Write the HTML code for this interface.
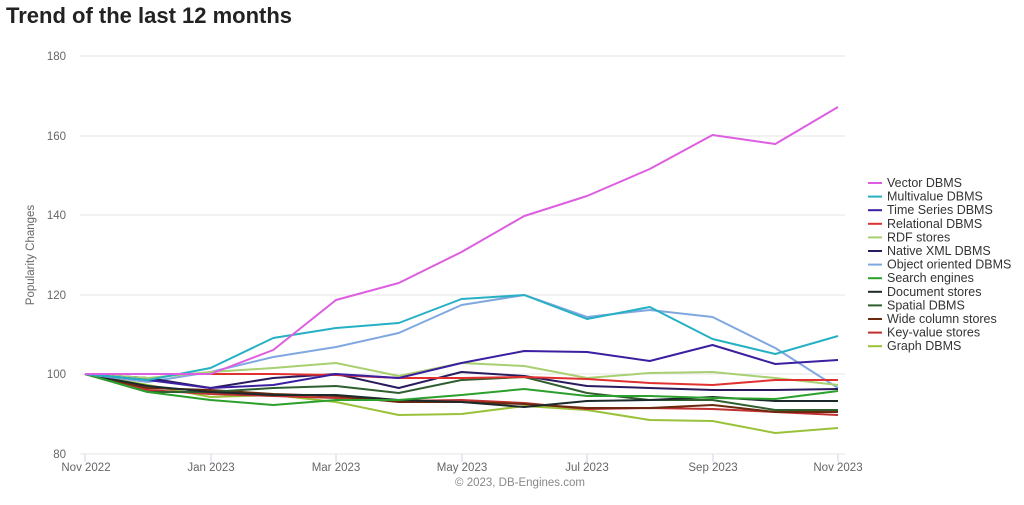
<!DOCTYPE html><html><head><meta charset="utf-8"><style>body{margin:0;background:#fff;width:1024px;height:500px;overflow:hidden}</style></head><body>
<svg width="1024" height="500" xmlns="http://www.w3.org/2000/svg" font-family="Liberation Sans, sans-serif">
<text x="6" y="23" font-size="22" font-weight="bold" fill="#222">Trend of the last 12 months</text>
<g stroke="#e6e6e6" stroke-width="1">
<line x1="80" x2="845" y1="56" y2="56"/><line x1="80" x2="845" y1="136" y2="136"/><line x1="80" x2="845" y1="215" y2="215"/><line x1="80" x2="845" y1="295" y2="295"/><line x1="80" x2="845" y1="374" y2="374"/><line x1="80" x2="845" y1="454" y2="454"/>
</g>
<g stroke="#ccd6eb"><line x1="85" x2="85" y1="454" y2="462"/><line x1="211" x2="211" y1="454" y2="462"/><line x1="336" x2="336" y1="454" y2="462"/><line x1="462" x2="462" y1="454" y2="462"/><line x1="587" x2="587" y1="454" y2="462"/><line x1="713" x2="713" y1="454" y2="462"/><line x1="838" x2="838" y1="454" y2="462"/></g>
<g font-size="11.5" fill="#666" text-anchor="end">
<text x="66" y="60">180</text><text x="66" y="140">160</text><text x="66" y="219">140</text><text x="66" y="299">120</text><text x="66" y="378">100</text><text x="66" y="458">80</text></g>
<g font-size="11.5" fill="#666" text-anchor="middle">
<text x="86" y="471">Nov 2022</text><text x="211" y="471">Jan 2023</text><text x="336" y="471">Mar 2023</text><text x="462" y="471">May 2023</text><text x="587" y="471">Jul 2023</text><text x="713" y="471">Sep 2023</text><text x="838" y="471">Nov 2023</text></g>
<text transform="translate(34,255) rotate(-90)" font-size="11.5" fill="#666" text-anchor="middle">Popularity Changes</text>
<text x="520" y="486" font-size="11.5" fill="#888" text-anchor="middle">© 2023, DB-Engines.com</text>
<g fill="none" stroke-width="2" stroke-linejoin="round" id="s"></g>
<g font-size="12.5" fill="#333" id="lg"></g>
</svg>
<script>
var xs=[];for(var i=0;i<13;i++)xs.push(85+62.75*i);
var S=[
["Vector DBMS","#dd5ee0",[374,374,374,350,300,283,252,216,196,169,135,144,107]],
["Multivalue DBMS","#26b0c4",[374,380,368,338,328,323,299,295,319,307,339,354,336]],
["Time Series DBMS","#3b1fa0",[374,380,388,385,374,378,363,351,352,361,345,364,360]],
["Relational DBMS","#e03030",[374,374,374,374,375,378,378,377,379,383,385,380,380]],
["RDF stores","#a8d070",[374,378,372,368,363,376,363,366,378,373,372,378,385]],
["Native XML DBMS","#2a1a5e",[374,378,388,378,374,388,372,376,386,388,390,390,389]],
["Object oriented DBMS","#80a8e0",[374,382,372,357,347,333,305,295,317,310,317,348,388]],
["Search engines","#2ca02c",[374,392,400,405,400,400,395,389,396,396,398,399,391]],
["Document stores","#1c2a2c",[374,386,392,395,395,400,402,407,401,400,397,401,401]],
["Spatial DBMS","#2f5f2f",[374,392,392,388,386,393,380,377,393,400,400,410,410]],
["Wide column stores","#6b2a0f",[374,388,390,394,396,402,402,404,408,408,405,412,412]],
["Key-value stores","#c03030",[374,390,394,396,398,401,400,403,409,408,409,412,415]],
["Graph DBMS","#99c23a",[374,385,397,395,402,415,414,406,410,420,421,433,428]]];
var ns="http://www.w3.org/2000/svg",g=document.getElementById("s"),lg=document.getElementById("lg");
for(var k=S.length-1;k>=0;k--){var p=document.createElementNS(ns,"polyline");p.setAttribute("points",S[k][2].map(function(y,i){return xs[i]+","+y}).join(" "));p.setAttribute("stroke",S[k][1]);g.appendChild(p);}
S.forEach(function(s,k){var y=183+13.6*k;var l=document.createElementNS(ns,"line");l.setAttribute("x1",868);l.setAttribute("x2",882);l.setAttribute("y1",y);l.setAttribute("y2",y);l.setAttribute("stroke",s[1]);l.setAttribute("stroke-width",2);lg.appendChild(l);var t=document.createElementNS(ns,"text");t.setAttribute("x",887);t.setAttribute("y",y+4);t.textContent=s[0];lg.appendChild(t);});
</script>
</body></html>
